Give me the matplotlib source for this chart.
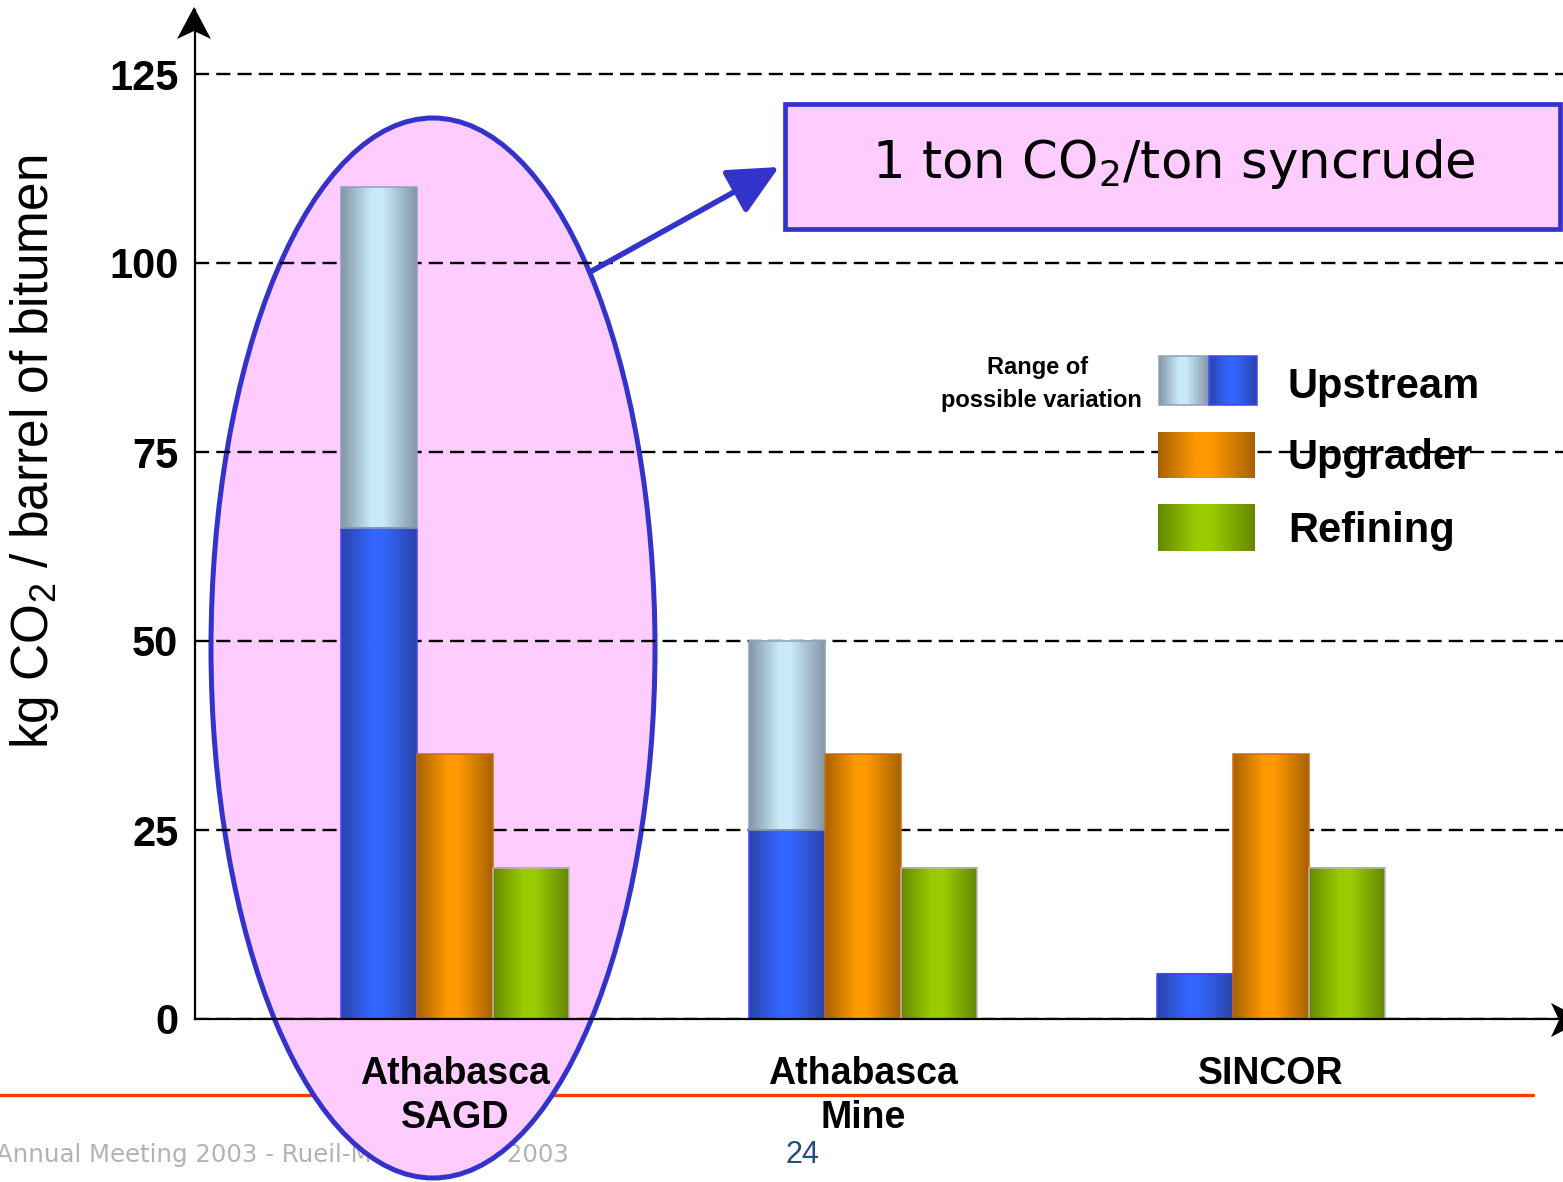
import numpy as np
import matplotlib
matplotlib.use("Agg")
import matplotlib.pyplot as plt
from matplotlib.patches import Ellipse, Rectangle, Polygon, FancyArrowPatch
from matplotlib.colors import to_rgb

plt.rcParams['font.family'] = ['Liberation Sans', 'DejaVu Sans']

W, H, DPI = 1563, 1182, 100

# ---- data -------------------------------------------------------------
sites = ["Athabasca\nSAGD", "Athabasca\nMine", "SINCOR"]
upstream_low = [65, 25, 6]       # lower bound of upstream emissions
upstream_high = [110, 50, 6]     # upper bound of upstream emissions
upgrader = [35, 35, 35]
refining = [20, 20, 20]
yticks = [0, 25, 50, 75, 100, 125]
legend_labels = ["Upstream", "Upgrader", "Refining"]

# ---- styling ----------------------------------------------------------
# dark edge colour, bright centre colour, outline colour
SHADES = {
    "upstream": ("#2a44aa", "#3366ff", "#4444ff"),
    "range": ("#8496a6", "#c8eafa", "#8fa0b8"),
    "upgrader": ("#a86200", "#ff9900", "#cc6a10"),
    "refining": ("#668800", "#99cc00", "#b8b8b8"),
}
PINK = "#ffccff"
NAVY = "#3333cc"
BAR_W = 0.186


def cylinder(dark, bright, n=96):
    t = np.linspace(0, 1, n)
    w = np.interp(t, [0, 0.40, 0.55, 1], [0, 1, 1, 0])
    d = np.array(to_rgb(dark))
    b = np.array(to_rgb(bright))
    return (d[None, :] * (1 - w[:, None]) + b[None, :] * w[:, None])[None, :, :]


def shaded_bar(ax, x, height, bottom, key):
    if height <= 0:
        return
    dark, bright, edge = SHADES[key]
    ax.bar(x, height, BAR_W, bottom=bottom, facecolor="none",
           edgecolor=edge, linewidth=1.1, zorder=2.1)
    ax.imshow(cylinder(dark, bright),
              extent=(x - BAR_W / 2, x + BAR_W / 2, bottom, bottom + height),
              aspect="auto", interpolation="bilinear", zorder=2)


fig = plt.figure(figsize=(W / DPI, H / DPI), dpi=DPI)

# background layer: footer
bg = fig.add_axes([0, 0, 1, 1], zorder=0)
bg.set_xlim(0, W)
bg.set_ylim(H, 0)
bg.axis("off")
bg.plot([0, 1533], [1095, 1095], color="#ff3b00", lw=2.4,
        solid_capstyle="round")
bg.text(-4, 1162, "Annual Meeting 2003 - Rueil-Malmaison - 2003",
        family="DejaVu Sans", fontsize=17.6, color="#b3b3b3",
        ha="left", va="baseline")
bg.text(802, 1163, "24", fontsize=22, color="#1f4e8a",
        ha="center", va="baseline")

# main chart
ax = fig.add_axes([195 / W, 1 - 1019 / H, 1 - 195 / W, (1019 - 10) / H],
                  zorder=1)
ax.patch.set_alpha(0)

x = np.arange(len(sites))
for i in range(len(sites)):
    shaded_bar(ax, x[i] - BAR_W, upstream_low[i], 0, "upstream")
    shaded_bar(ax, x[i] - BAR_W, upstream_high[i] - upstream_low[i],
               upstream_low[i], "range")
    shaded_bar(ax, x[i], upgrader[i], 0, "upgrader")
    shaded_bar(ax, x[i] + BAR_W, refining[i], 0, "refining")

# highlight around the SAGD group
ax.add_patch(Ellipse(((433 - 455) / 408, (1019 - 648) / 7.56),
                     444 / 408, 1060 / 7.56, facecolor=PINK,
                     edgecolor=NAVY, lw=3.6, zorder=0.2, clip_on=False))

ax.set_xlim(-260 / 408, (1563 - 455) / 408)
ax.set_ylim(0, 1009 / 7.56)
ax.set_axisbelow(True)
ax.yaxis.grid(True, color="black", linestyle=(0, (6, 3)), linewidth=1.7)
ax.xaxis.grid(False)
ax.set_yticks(yticks)
ax.set_yticklabels([str(v) for v in yticks], fontsize=30, fontweight="bold")
ax.set_xticks(x)
ax.set_xticklabels(sites, fontsize=27, fontweight="bold")
for lbl in ax.get_xticklabels():
    lbl.set_linespacing(1.25)
ax.tick_params(axis="y", length=0, pad=12)
ax.tick_params(axis="x", length=0, pad=27)
for s in ("top", "right"):
    ax.spines[s].set_visible(False)
for s in ("left", "bottom"):
    ax.spines[s].set_linewidth(1.6)
    ax.spines[s].set_color("black")

# overlay: annotations and legend
ov = fig.add_axes([0, 0, 1, 1], zorder=3)
ov.patch.set_alpha(0)

# axis arrow heads
ov.add_patch(Polygon([(194, 7), (177, 39), (194, 31), (211, 39)],
                     closed=True, color="black", lw=0))
ov.add_patch(Polygon([(1584, 1020), (1551, 1003), (1559, 1020), (1551, 1037)],
                     closed=True, color="black", lw=0))

# callout box and arrow
ov.add_patch(Rectangle((785, 104), 775, 125, facecolor=PINK,
                       edgecolor=NAVY, lw=3.4))
ov.text(1174, 178, "1 ton CO$_{\\mathregular{2}}$/ton syncrude",
        family="DejaVu Sans", fontsize=37, ha="center", va="baseline")
ov.add_patch(FancyArrowPatch((590, 272), (779, 167),
                             arrowstyle="-|>,head_length=3.1,head_width=1.5",
                             mutation_scale=10, lw=4.0, color=NAVY,
                             shrinkA=0, shrinkB=0))

# legend
ov.imshow(cylinder(*SHADES["range"][:2]), extent=(1159, 1209, 405, 356),
          aspect="auto", interpolation="bilinear")
ov.imshow(cylinder(*SHADES["upstream"][:2]), extent=(1209, 1257, 405, 356),
          aspect="auto", interpolation="bilinear")
ov.add_patch(Rectangle((1159, 356), 50, 49, fill=False,
                       edgecolor=SHADES["range"][2], lw=1.1))
ov.add_patch(Rectangle((1209, 356), 48, 49, fill=False,
                       edgecolor=SHADES["upstream"][2], lw=1.1))
ov.imshow(cylinder(*SHADES["upgrader"][:2]), extent=(1158, 1255, 478, 432),
          aspect="auto", interpolation="bilinear")
ov.imshow(cylinder(*SHADES["refining"][:2]), extent=(1158, 1255, 551, 504),
          aspect="auto", interpolation="bilinear")
for lbl, yb in zip(legend_labels, (398, 469, 542)):
    ov.text(1288, yb, lbl, fontsize=30, fontweight="bold", va="baseline")
ov.text(1038, 374, "Range of", fontsize=17, fontweight="bold",
        ha="center", va="baseline")
ov.text(1041, 407, "possible variation", fontsize=17, fontweight="bold",
        ha="center", va="baseline")

# y-axis title
ov.text(35, 452, "kg CO$_{\\mathregular{2}}$ / barrel of bitumen",
        fontsize=37, rotation=90, ha="center", va="center")

ov.set_xlim(0, W)
ov.set_ylim(H, 0)
ov.axis("off")

fig.savefig("out.png", dpi=DPI)
